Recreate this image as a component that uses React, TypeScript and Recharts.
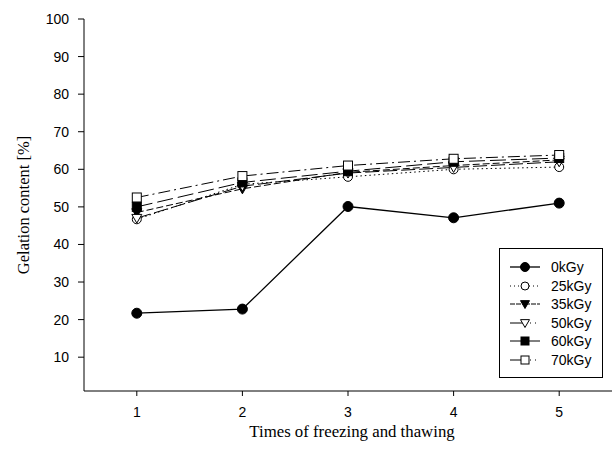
import { LineChart, Line, XAxis, YAxis, Legend } from "recharts"

const cycles = [1, 2, 3, 4, 5]
const xTicks = [1, 2, 3, 4, 5]
const yTicks = [10, 20, 30, 40, 50, 60, 70, 80, 90, 100]

const gel0 = [21.7, 22.8, 50.1, 47.1, 51.0]
const gel25 = [46.7, 56.0, 58.0, 60.0, 60.6]
const gel35 = [48.5, 54.8, 59.2, 61.0, 62.5]
const gel50 = [47.0, 55.5, 59.0, 60.5, 62.0]
const gel60 = [50.0, 56.5, 59.5, 62.0, 63.0]
const gel70 = [52.5, 58.2, 61.0, 62.8, 63.8]

const seriesNames = ["0kGy", "25kGy", "35kGy", "50kGy", "60kGy", "70kGy"]

type Shape = "circle" | "triangle" | "square"

interface SeriesStyle {
  key: string
  shape: Shape
  filled: boolean
  dash?: string
  /* legend sample: left / right half dash */
  legLeft?: string
  legRight?: string
  r: number
  width: number
}

const styles: SeriesStyle[] = [
  { key: "g0", shape: "circle", filled: true, r: 5, width: 1.3 },
  { key: "g25", shape: "circle", filled: false, dash: "1.5 3", legLeft: "1 3", legRight: "1 3", r: 4.5, width: 1 },
  { key: "g35", shape: "triangle", filled: true, dash: "7 3", legLeft: "5 1", legRight: "5 1", r: 5, width: 1 },
  { key: "g50", shape: "triangle", filled: false, dash: "14 4", legRight: "1 4", r: 5, width: 1 },
  { key: "g60", shape: "square", filled: true, dash: "16 5", r: 4.5, width: 1 },
  { key: "g70", shape: "square", filled: false, dash: "12 4 2 4", legRight: "1 4", r: 4.5, width: 1 },
]

const data = cycles.map((c, i) => ({
  cycle: c,
  g0: gel0[i],
  g25: gel25[i],
  g35: gel35[i],
  g50: gel50[i],
  g60: gel60[i],
  g70: gel70[i],
}))

/* marker drawn at (cx, cy) */
function Marker({ cx, cy, shape, filled, r }: {
  cx: number; cy: number; shape: Shape; filled: boolean; r: number
}) {
  const fill = filled ? "#000" : "#fff"
  if (shape === "circle") {
    return <circle cx={cx} cy={cy} r={r} fill={fill} stroke="#000" strokeWidth={1} />
  }
  if (shape === "square") {
    return (
      <rect x={cx - r} y={cy - r} width={r * 2} height={r * 2}
        fill={fill} stroke="#000" strokeWidth={1} />
    )
  }
  const pts = `${cx - r},${cy - r * 0.75} ${cx + r},${cy - r * 0.75} ${cx},${cy + r}`
  return <polygon points={pts} fill={fill} stroke="#000" strokeWidth={1} />
}

function makeDot(s: SeriesStyle) {
  return (props: { cx?: number; cy?: number; index?: number }) => (
    <Marker key={`${s.key}-${props.index}`} cx={props.cx ?? 0} cy={props.cy ?? 0}
      shape={s.shape} filled={s.filled} r={s.r} />
  )
}

/* boxed legend, like the original plot */
function BoxLegend() {
  return (
    <div style={{
      width: 104, height: 130, border: "1px solid #000", background: "#fff",
      boxSizing: "border-box", paddingTop: 9,
    }}>
      {styles.map((s, i) => (
        <div key={s.key} style={{ display: "flex", alignItems: "center", height: 18.5 }}>
          <svg width={42} height={14} style={{ marginLeft: 9 }}>
            <line x1={1} x2={16} y1={7} y2={7} stroke="#000"
              strokeWidth={s.width} strokeDasharray={s.legLeft} />
            <line x1={16} x2={31} y1={7} y2={7} stroke="#000"
              strokeWidth={s.width} strokeDasharray={s.legRight} />
            <Marker cx={16} cy={7} shape={s.shape} filled={s.filled} r={s.r - 0.5} />
          </svg>
          <span style={{ fontFamily: "'Liberation Sans', Arial, sans-serif", fontSize: 14, color: "#000" }}>
            {seriesNames[i]}
          </span>
        </div>
      ))}
    </div>
  )
}

const tickFont = { fontFamily: "'Liberation Sans', Arial, sans-serif", fontSize: 14, fill: "#000" }
const titleFont = "'Liberation Serif', 'Times New Roman', serif"

export default function App() {
  return (
    <div style={{ position: "absolute", left: 0, top: 0, background: "#fff" }}>
      <LineChart width={614} height={453} data={data}
        margin={{ top: 19, right: 2, bottom: 0, left: 0 }}>
        <XAxis dataKey="cycle" type="number" domain={[0.5, 5.5]} ticks={xTicks}
          allowDataOverflow height={62} stroke="#000" tickSize={5} tickMargin={11}
          tick={tickFont}
          label={{
            content: () => (
              <text x={352} y={437} textAnchor="middle" fontFamily={titleFont}
                fontSize={16.8} fill="#000">
                Times of freezing and thawing
              </text>
            ),
          }} />
        <XAxis xAxisId="top" dataKey="cycle" type="number" domain={[0.5, 5.5]}
          orientation="top" height={0} tick={false} tickLine={false} stroke="#000" />
        <YAxis type="number" domain={[1, 100]} ticks={yTicks} allowDataOverflow
          width={84} stroke="#000" tickSize={6} tickMargin={9} tick={tickFont}
          label={{
            content: () => (
              <text x={29} y={205} transform="rotate(-90 29 205)" textAnchor="middle"
                fontFamily={titleFont} fontSize={16.5} fill="#000">
                Gelation content [%]
              </text>
            ),
          }} />
        <YAxis yAxisId="right" orientation="right" domain={[1, 100]} width={0}
          tick={false} tickLine={false} stroke="#000" />
        {styles.map((s) => (
          <Line key={s.key} dataKey={s.key} type="linear" stroke="#000"
            strokeWidth={s.width} strokeDasharray={s.dash} dot={makeDot(s)}
            activeDot={false} isAnimationActive={false} />
        ))}
        <Legend layout="horizontal" verticalAlign="middle" align="center"
          content={() => <BoxLegend />}
          wrapperStyle={{ left: 499, top: 248, width: 104, height: 130 }} />
      </LineChart>
    </div>
  )
}
